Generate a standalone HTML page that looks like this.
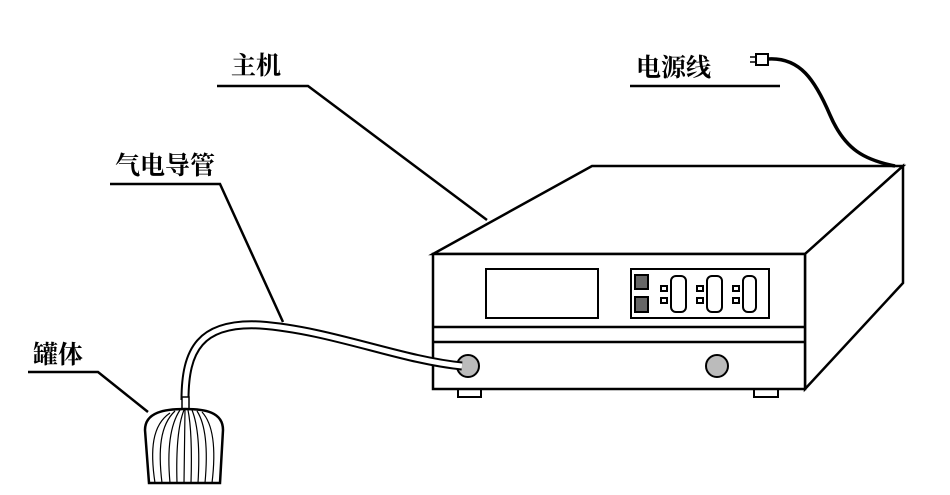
<!DOCTYPE html>
<html><head><meta charset="utf-8"><style>
html,body{margin:0;padding:0;background:#fff;}
svg{display:block;}
text{font-family:"Liberation Serif","Noto Serif CJK SC",serif;font-weight:bold;font-size:25px;fill:#000;}
</style></head><body>
<svg width="950" height="495" viewBox="0 0 950 495" xmlns="http://www.w3.org/2000/svg">
<g fill="none" stroke="#000" stroke-width="2.5">
<!-- labels & leaders -->
<polyline points="217,86 308,86 487,220"/>
<polyline points="110,184 220,184 283,322"/>
<line x1="630" y1="86" x2="780" y2="86"/>
<polyline points="28,372 98,372 148,412"/>
<!-- main box -->
<polygon points="433,254 592,166 903,166 805,254" fill="#fff"/>
<polygon points="805,254 903,166 903,283 805,389" fill="#fff"/>
<rect x="433" y="254" width="372" height="135" fill="#fff"/>
<line x1="433" y1="327" x2="805" y2="327"/>
<line x1="433" y1="342" x2="805" y2="342"/>
<rect x="486" y="269" width="112" height="49" stroke-width="2"/>
<rect x="631" y="269" width="138" height="49" stroke-width="2"/>
<rect x="458" y="389" width="23" height="8" stroke-width="2"/>
<rect x="754" y="389" width="24" height="8" stroke-width="2"/>
<!-- power cord -->
<path d="M768,59 C800,57 815,80 830,115 C845,150 865,160 895,166" stroke-width="3.5"/>
<rect x="756" y="54" width="12" height="11" stroke-width="2" fill="#fff"/>
<line x1="750" y1="57" x2="756" y2="57" stroke-width="1.5"/>
<line x1="750" y1="62" x2="756" y2="62" stroke-width="1.5"/>
</g>
<!-- panel controls -->
<g stroke="#000" stroke-width="2" fill="#fff">
<rect x="635" y="275" width="13" height="14" fill="#666"/>
<rect x="635" y="297" width="13" height="15" fill="#666"/>
<rect x="661" y="286" width="6" height="5"/><rect x="661" y="298" width="6" height="5"/>
<rect x="671" y="276" width="15" height="36" rx="5"/>
<rect x="697" y="286" width="6" height="5"/><rect x="697" y="298" width="6" height="5"/>
<rect x="707" y="276" width="15" height="36" rx="5"/>
<rect x="733" y="286" width="6" height="5"/><rect x="733" y="298" width="6" height="5"/>
<rect x="743" y="276" width="13" height="36" rx="5"/>
<circle cx="468" cy="366" r="11" fill="#bbb"/>
<circle cx="717" cy="366" r="11" fill="#bbb"/>
</g>
<!-- tube -->
<path d="M462,366 C400,360 330,330 260,325 C200,322 185,350 185,400" fill="none" stroke="#000" stroke-width="9"/>
<path d="M462,366 C400,360 330,330 260,325 C200,322 185,350 185,400" fill="none" stroke="#fff" stroke-width="5"/>
<rect x="182" y="397" width="7" height="13" fill="#fff" stroke="#000" stroke-width="1.5"/>
<!-- tank -->
<g stroke="#000" fill="none">
<path d="M149,483 L145,430 C145,412 165,409 185,409 C205,409 223,412 223,430 L220,483 Z" fill="#fff" stroke-width="2.5"/>
<path d="M155,483 C150,450 152,425 170,413 M162,483 C158,450 160,425 175,411 M170,483 C167,450 170,425 180,410 M177,483 C176,450 178,425 184,410 M184,483 L185,410 M191,483 C192,450 191,425 188,410 M198,483 C200,450 198,425 192,410 M205,483 C208,450 206,425 197,411 M212,483 C216,450 214,425 202,412" stroke-width="1.2"/>
</g>
<text x="231" y="74">主机</text>
<text x="636" y="76">电源线</text>
<text x="115" y="174">气电导管</text>
<text x="33" y="363">罐体</text>
</svg>
</body></html>
